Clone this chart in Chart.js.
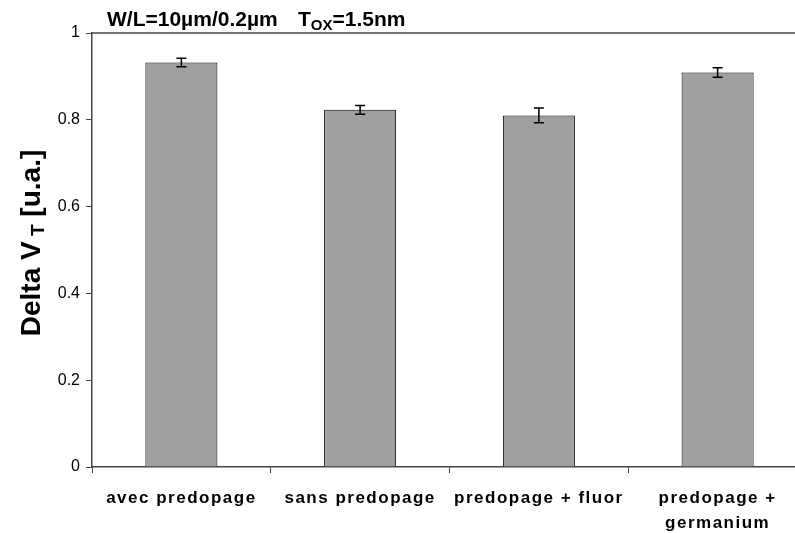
<!DOCTYPE html>
<html lang="en">
<head>
  <meta charset="UTF-8">
  <title>Delta VT</title>
  <script src="https://cdn.jsdelivr.net/npm/chart.js"></script>
  <style>
    html, body { margin: 0; padding: 0; background: #fff; overflow: hidden; }
    canvas { display: block; }
  </style>
</head>
<body>
  <canvas id="chart" width="810" height="533"></canvas>

  <script>
    // data
    const categories = ['avec predopage', 'sans predopage', 'predopage + fluor', ['predopage +', 'germanium']];
    const values = [0.932, 0.823, 0.810, 0.909];
    const errors = [0.010, 0.010, 0.017, 0.011];
    const yTicks = [0, 0.2, 0.4, 0.6, 0.8, 1];

    const FONT = '"Liberation Sans", Arial, sans-serif';

    // error bars drawn from the y scale
    const errorBars = {
      id: 'errorBars',
      afterDatasetsDraw(chart) {
        const ctx = chart.ctx, y = chart.scales.y;
        const meta = chart.getDatasetMeta(0);
        ctx.save();
        ctx.strokeStyle = '#000';
        ctx.lineWidth = 1.5;
        meta.data.forEach((bar, i) => {
          const top = y.getPixelForValue(values[i] + errors[i]);
          const bot = y.getPixelForValue(values[i] - errors[i]);
          ctx.beginPath();
          ctx.moveTo(bar.x, top); ctx.lineTo(bar.x, bot);
          ctx.moveTo(bar.x - 5, top); ctx.lineTo(bar.x + 5, top);
          ctx.moveTo(bar.x - 5, bot); ctx.lineTo(bar.x + 5, bot);
          ctx.stroke();
        });
        ctx.restore();
      }
    };

    // spaced-out letters for the category labels only
    const spacing = {
      id: 'spacing',
      afterLayout(chart) {
        const sx = chart.scales.x;
        if (sx._spaced) return;
        const orig = sx.drawLabels.bind(sx);
        sx.drawLabels = function (area) {
          const ctx = chart.ctx;
          ctx.save();
          ctx.letterSpacing = '1.5px';
          orig(area);
          ctx.restore();
        };
        sx._spaced = true;
      }
    };

    // top frame line, title and y title (both have subscripts)
    const texts = {
      id: 'texts',
      afterDraw(chart) {
        const ctx = chart.ctx, a = chart.chartArea;
        ctx.save();
        ctx.strokeStyle = '#444';
        ctx.lineWidth = 1.5;
        ctx.beginPath();
        ctx.moveTo(a.left, a.top); ctx.lineTo(a.right, a.top);
        ctx.stroke();

        ctx.fillStyle = '#000';
        ctx.textBaseline = 'alphabetic';
        ctx.textAlign = 'left';
        ctx.font = 'bold 21px ' + FONT;
        ctx.fillText('W/L=10µm/0.2µm', 107, 26);
        let x = 298;
        ctx.fillText('T', x, 26);
        x += ctx.measureText('T').width;
        ctx.font = 'bold 15px ' + FONT;
        ctx.fillText('OX', x, 30);
        x += ctx.measureText('OX').width;
        ctx.font = 'bold 21px ' + FONT;
        ctx.fillText('=1.5nm', x, 26);

        // rotated y title
        ctx.translate(40, 243);
        ctx.rotate(-Math.PI / 2);
        const big = 'bold 28px ' + FONT, small = 'bold 19px ' + FONT;
        const parts = [['Delta V', big, 0], [' T', small, 4], [' [u.a.]', big, 0]];
        let w = 0;
        parts.forEach(p => { ctx.font = p[1]; w += ctx.measureText(p[0]).width; });
        let px = -w / 2;
        parts.forEach(p => {
          ctx.font = p[1];
          ctx.fillText(p[0], px, p[2]);
          px += ctx.measureText(p[0]).width;
        });
        ctx.restore();
      }
    };

    new Chart(document.getElementById('chart'), {
      type: 'bar',
      data: {
        labels: categories,
        datasets: [{
          data: values,
          backgroundColor: '#a0a0a0',
          borderColor: '#000',
          borderWidth: 1,
          categoryPercentage: 1,
          barPercentage: 0.403
        }]
      },
      options: {
        responsive: false,
        animation: false,
        layout: { padding: { left: 0, top: 33, right: 3, bottom: 0 } },
        plugins: { legend: { display: false }, tooltip: { enabled: false } },
        scales: {
          x: {
            afterFit: s => { s.height = 66; },
            border: { color: '#444', width: 1.5 },
            grid: { drawOnChartArea: false, drawTicks: true, tickLength: 6, color: '#444', offset: true },
            ticks: { color: '#000', padding: 13, font: { family: FONT, size: 17, weight: 'bold', lineHeight: 1.45 }, maxRotation: 0, autoSkip: false }
          },
          y: {
            min: 0, max: 1,
            afterFit: s => { s.width = 92; },
            afterBuildTicks: s => { s.ticks = yTicks.map(v => ({ value: v })); },
            border: { color: '#444', width: 1.5 },
            grid: { drawOnChartArea: false, drawTicks: true, tickLength: 6, color: '#444' },
            ticks: { color: '#000', padding: 6, font: { family: FONT, size: 16 }, callback: v => String(+v.toFixed(1)) }
          }
        }
      },
      plugins: [spacing, errorBars, texts]
    });
  </script>
</body>
</html>
